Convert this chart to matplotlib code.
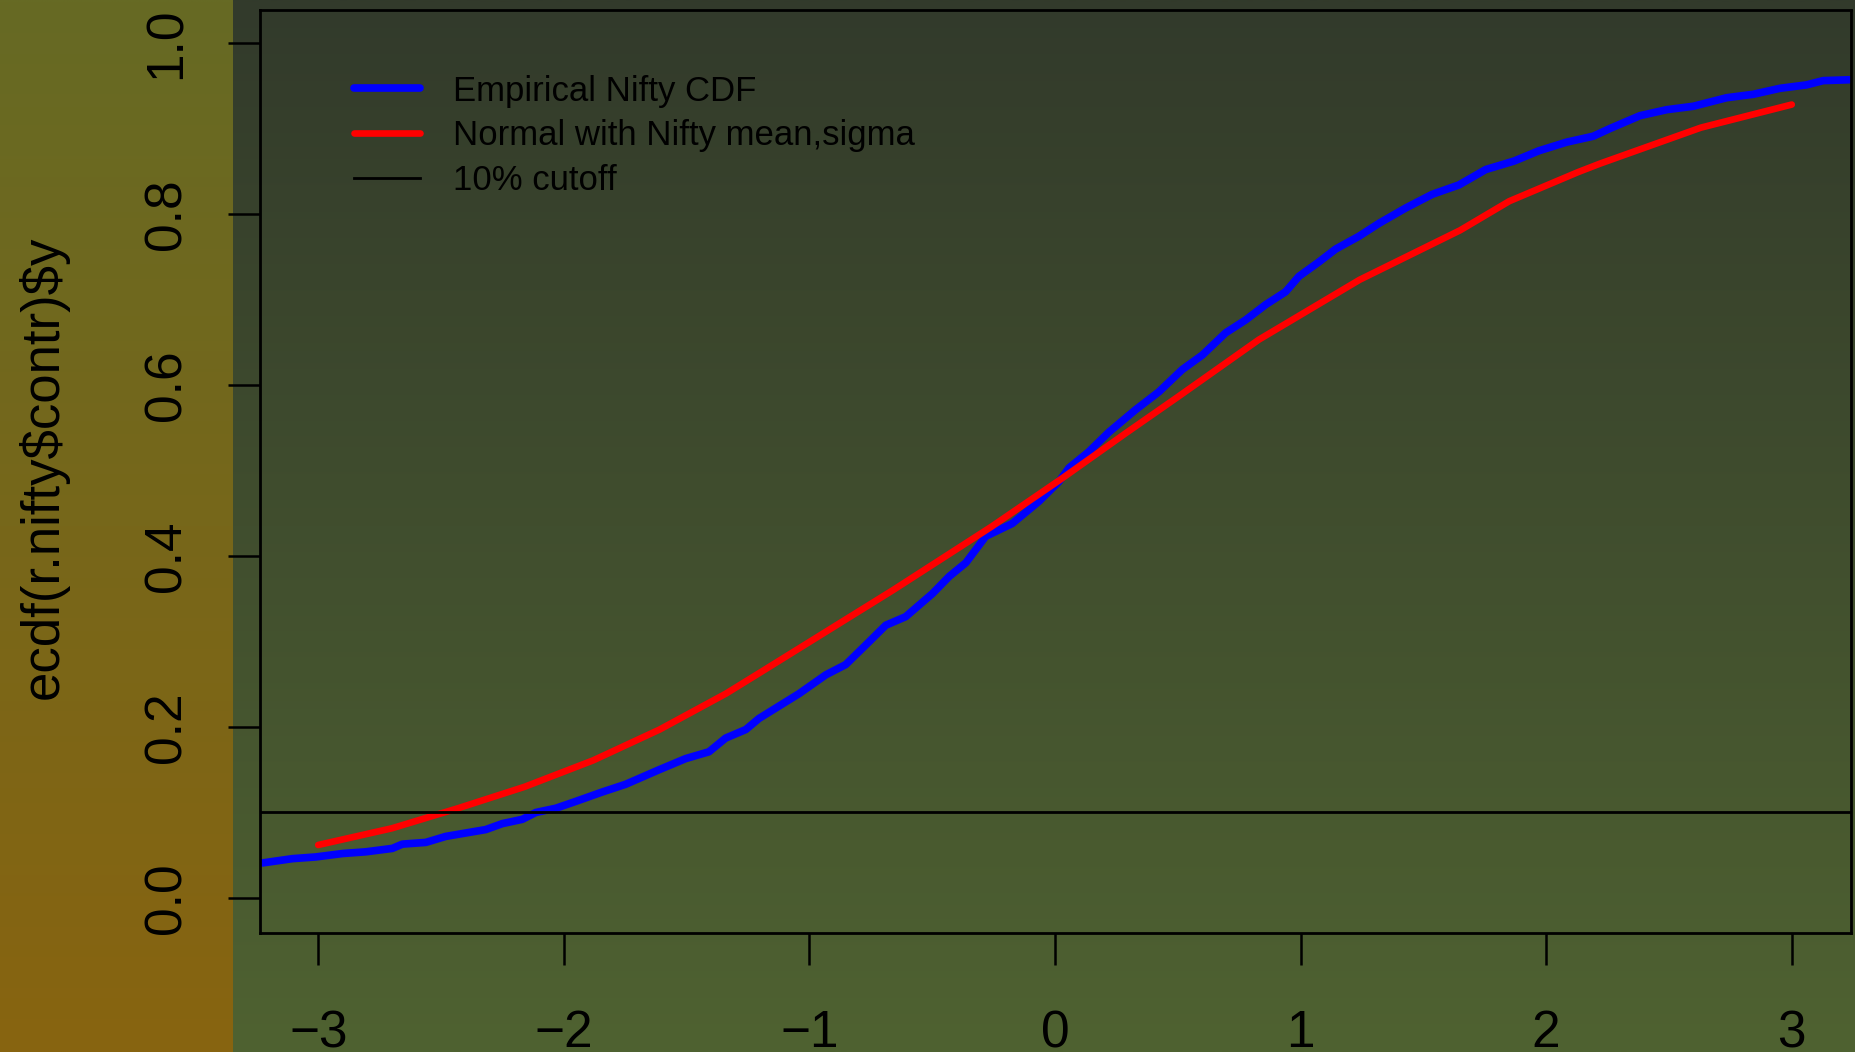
import numpy as np
import matplotlib
matplotlib.use("Agg")
import matplotlib.pyplot as plt
from matplotlib.colors import to_rgb

plt.rcParams["font.family"] = ["Liberation Sans", "DejaVu Sans"]

# --- empirical CDF of the Nifty contributions ---
ecdf_x = [-3.227, -3.105, -3.010, -2.901, -2.806, -2.698, -2.657, -2.562, -2.481,
          -2.318, -2.250, -2.169, -2.114, -2.032, -1.951, -1.843, -1.748, -1.612,
          -1.504, -1.409, -1.341, -1.259, -1.205, -1.042, -0.933, -0.852, -0.770,
          -0.689, -0.608, -0.499, -0.431, -0.363, -0.282, -0.174, -0.065, 0.016,
          0.057, 0.138, 0.220, 0.328, 0.423, 0.518, 0.600, 0.695, 0.776, 0.858,
          0.939, 0.993, 1.075, 1.143, 1.238, 1.319, 1.428, 1.536, 1.645, 1.754,
          1.870, 1.971, 2.083, 2.192, 2.260, 2.382, 2.491, 2.599, 2.735, 2.843,
          2.952, 3.060, 3.128, 3.234]
ecdf_y = [0.041, 0.046, 0.048, 0.052, 0.054, 0.058, 0.063, 0.065, 0.072,
          0.080, 0.087, 0.092, 0.100, 0.105, 0.113, 0.124, 0.133, 0.150,
          0.163, 0.171, 0.187, 0.197, 0.210, 0.239, 0.261, 0.273, 0.296,
          0.319, 0.329, 0.356, 0.376, 0.392, 0.423, 0.438, 0.464, 0.487,
          0.503, 0.522, 0.545, 0.571, 0.592, 0.618, 0.635, 0.661, 0.676, 0.694,
          0.709, 0.727, 0.744, 0.759, 0.774, 0.789, 0.807, 0.823, 0.834, 0.852,
          0.862, 0.874, 0.884, 0.891, 0.900, 0.915, 0.922, 0.926, 0.936, 0.940,
          0.947, 0.951, 0.956, 0.957]

# --- normal CDF with the Nifty mean and sigma ---
norm_x = [-3.00, -2.70, -2.43, -2.16, -1.88, -1.61, -1.34, -1.21, -0.66, -0.26,
          0.02, 0.29, 0.50, 0.83, 1.24, 1.65, 1.85, 2.13, 2.22, 2.63, 3.00]
norm_y = [0.062, 0.0815, 0.105, 0.130, 0.161, 0.197, 0.239, 0.262, 0.360, 0.434,
          0.489, 0.544, 0.586, 0.653, 0.723, 0.781, 0.815, 0.849, 0.859, 0.901, 0.928]

cutoff = 0.10

x_ticks = [-3, -2, -1, 0, 1, 2, 3]
y_ticks = [0.0, 0.2, 0.4, 0.6, 0.8, 1.0]
y_tick_labels = ["0.0", "0.2", "0.4", "0.6", "0.8", "1.0"]
legend_labels = ["Empirical Nifty CDF", "Normal with Nifty mean,sigma", "10% cutoff"]
y_label = r"ecdf(r.nifty\$contr)\$y"

W, H = 1856, 1052
fig = plt.figure(figsize=(W / 100, H / 100), dpi=100)


def vgrad(top, bottom, n=256):
    t = np.linspace(0, 1, n)[:, None]
    c0, c1 = np.array(to_rgb(top)), np.array(to_rgb(bottom))
    return (c0 * (1 - t) + c1 * t)[:, None, :]


# gradient backdrop: margin strip on the left, the rest behind the plot
bg = fig.add_axes([0, 0, 1, 1], zorder=-10)
strip = 233 / W
bg.imshow(vgrad("#666a24", "#886410"), extent=[0, strip, 0, 1],
          aspect="auto", interpolation="bilinear")
bg.imshow(vgrad("#323a2b", "#4f6231"), extent=[strip, 1, 0, 1],
          aspect="auto", interpolation="bilinear")
bg.set_xlim(0, 1)
bg.set_ylim(0, 1)
bg.set_axis_off()

# plot region
left, right, top, bottom = 260, 1850.7, 10, 932.7
ax = fig.add_axes([left / W, 1 - bottom / H, (right - left) / W, (bottom - top) / H])
ax.set_facecolor("none")

ax.plot(ecdf_x, ecdf_y, color="blue", lw=5.5, solid_capstyle="round",
        solid_joinstyle="round", label=legend_labels[0])
ax.plot(norm_x, norm_y, color="red", lw=4.8, solid_capstyle="round",
        solid_joinstyle="round", label=legend_labels[1])
ax.axhline(cutoff, color="black", lw=2.0, label=legend_labels[2])

ax.set_xlim(-3.237, 3.240)
ax.set_ylim(-0.0406, 1.0386)

for s in ax.spines.values():
    s.set_linewidth(2.0)
    s.set_color("black")

ax.set_xticks(x_ticks)
ax.set_yticks(y_ticks, labels=y_tick_labels, rotation=90, va="center")
ax.tick_params(axis="both", direction="out", length=23, width=1.8,
               labelsize=37, color="black", labelcolor="black")
ax.tick_params(axis="x", pad=32)
ax.tick_params(axis="y", pad=26.5)

ax.set_ylabel(y_label, fontsize=38)
ax.yaxis.set_label_coords((43 - left) / (right - left), (bottom - 467) / (bottom - top))
ax.yaxis.label.set_va("center")

leg = ax.legend(loc="upper left", bbox_to_anchor=(0.059, 0.930), frameon=False,
                fontsize=25, handlelength=1.9, handletextpad=0.95,
                labelspacing=0.34, borderpad=0, borderaxespad=0)

fig.savefig("out.png", dpi=100)
plt.close(fig)
